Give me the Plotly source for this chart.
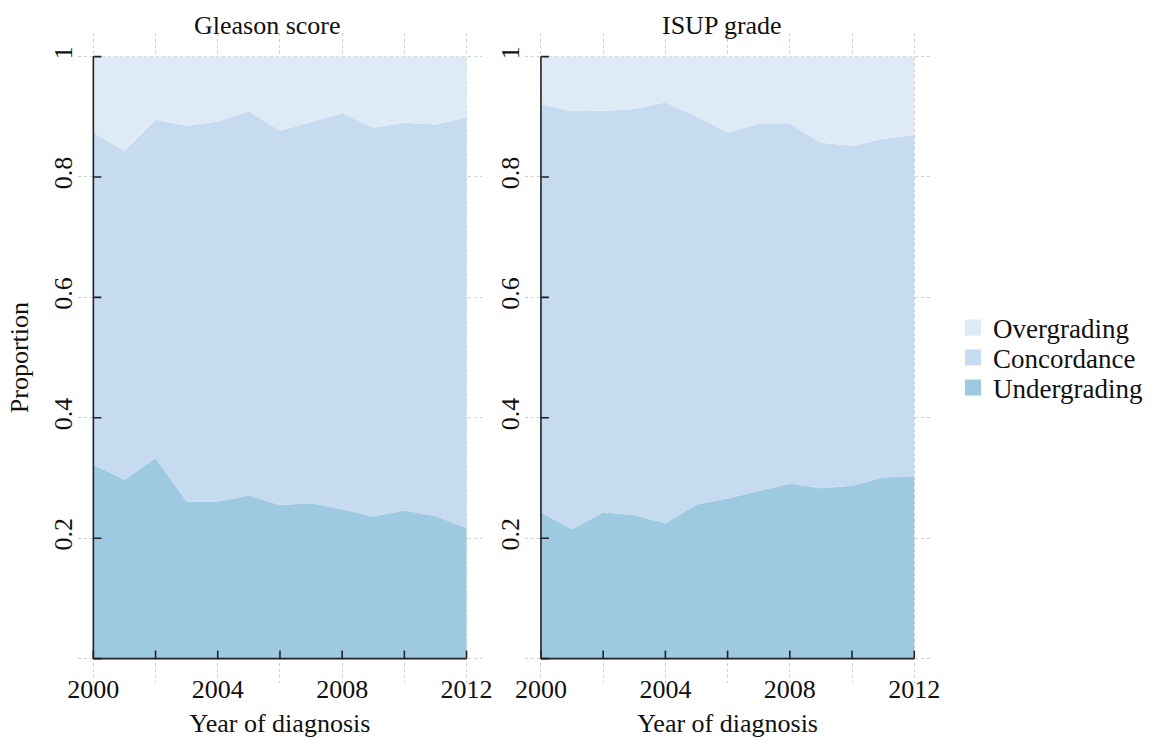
import plotly.graph_objects as go

# Proportion of cases by grading outcome, per year of diagnosis
years = list(range(2000, 2013))

gleason_under = [0.322, 0.297, 0.333, 0.261, 0.261, 0.271, 0.255, 0.258, 0.248, 0.236, 0.246, 0.237, 0.217]
gleason_conc = [0.552, 0.546, 0.562, 0.624, 0.631, 0.638, 0.622, 0.633, 0.658, 0.646, 0.644, 0.650, 0.682]
gleason_over = [0.126, 0.157, 0.105, 0.115, 0.108, 0.091, 0.123, 0.109, 0.094, 0.118, 0.110, 0.113, 0.101]

isup_under = [0.243, 0.215, 0.243, 0.238, 0.225, 0.256, 0.266, 0.279, 0.291, 0.283, 0.287, 0.301, 0.303]
isup_conc = [0.678, 0.694, 0.667, 0.675, 0.699, 0.644, 0.608, 0.609, 0.597, 0.574, 0.565, 0.562, 0.567]
isup_over = [0.079, 0.091, 0.090, 0.087, 0.076, 0.100, 0.126, 0.112, 0.112, 0.143, 0.148, 0.137, 0.130]

panel_titles = ["Gleason score", "ISUP grade"]
categories = ["Undergrading", "Concordance", "Overgrading"]
colors = {"Undergrading": "#9ecae1", "Concordance": "#c6dbef", "Overgrading": "#deebf7"}

x_tickvals = [2000, 2002, 2004, 2006, 2008, 2010, 2012]
x_ticktext = ["2000", "", "2004", "", "2008", "", "2012"]
y_tickvals = [0, 0.2, 0.4, 0.6, 0.8, 1.0]
y_ticktext = ["", "0.2", "0.4", "0.6", "0.8", "1"]

FONT = "Liberation Serif"
W, H = 1152, 738

fig = go.Figure()

panels = [
    ("x", "y", {"Undergrading": gleason_under, "Concordance": gleason_conc, "Overgrading": gleason_over}),
    ("x2", "y2", {"Undergrading": isup_under, "Concordance": isup_conc, "Overgrading": isup_over}),
]

for xa, ya, series in panels:
    for cat in categories:
        fig.add_trace(go.Scatter(
            x=years, y=series[cat], name=cat, mode="lines",
            stackgroup="stack_" + xa, line=dict(width=0, color=colors[cat]),
            fillcolor=colors[cat], xaxis=xa, yaxis=ya, showlegend=False,
            hovertemplate=cat + " %{x}: %{y:.3f}<extra></extra>",
        ))

# legend entries with square swatches, one legend per row
legend_rows = {"Overgrading": ("legend", 0.5556), "Concordance": ("legend2", 0.5149), "Undergrading": ("legend3", 0.4743)}
for cat, (lg, _) in legend_rows.items():
    fig.add_trace(go.Scatter(
        x=[None], y=[None], mode="markers", name=cat, legend=lg,
        marker=dict(symbol="square", size=17, color=colors[cat]),
        xaxis="x", yaxis="y", showlegend=True,
    ))

x_range = [1999.5, 2012.5]
y_range = [-0.04, 1.04]
grid = dict(showgrid=True, gridcolor="#cfcfcf", gridwidth=1, griddash="dot", zeroline=False, showline=False, ticks="")

axis_font = dict(family=FONT, size=26, color="#111111")

layout = dict(
    width=W, height=H,
    margin=dict(l=0, r=0, t=0, b=0),
    paper_bgcolor="white", plot_bgcolor="white",
    font=dict(family=FONT, size=26, color="#111111"),
    xaxis=dict(domain=[77.8 / W, 482.1 / W], range=x_range, tickvals=x_tickvals, ticktext=x_ticktext,
               tickfont=axis_font, ticklabelstandoff=-12, automargin=False,
               title=dict(text="Year of diagnosis", font=axis_font, standoff=11), **grid),
    yaxis=dict(domain=[1 - 682.7 / H, 1 - 32.5 / H], range=y_range, tickvals=y_tickvals, ticktext=y_ticktext,
               tickangle=-90, tickfont=axis_font, automargin=False,
               title=dict(text="Proportion", font=axis_font, standoff=12), **grid),
    xaxis2=dict(domain=[525.4 / W, 929.8 / W], range=x_range, tickvals=x_tickvals, ticktext=x_ticktext,
                tickfont=axis_font, ticklabelstandoff=-12, automargin=False, anchor="y2",
                title=dict(text="Year of diagnosis", font=axis_font, standoff=11), **grid),
    yaxis2=dict(domain=[1 - 682.7 / H, 1 - 32.5 / H], range=y_range, tickvals=y_tickvals, ticktext=y_ticktext,
                tickangle=-90, tickfont=axis_font, automargin=False, anchor="x2", **grid),
)
for lg, yy in legend_rows.values():
    layout[lg] = dict(x=953 / W, y=yy, xanchor="left", yanchor="middle", bgcolor="rgba(0,0,0,0)",
                      font=dict(family=FONT, size=27, color="#111111"), borderwidth=0)
fig.update_layout(**layout)

# range-frame axis lines with inward ticks, spanning the data extent only
x0, x1 = years[0], years[-1]
tick_dy = 8 / 602
tick_dx = 8 / 31.1
shapes = []
for xa, ya in [("x", "y"), ("x2", "y2")]:
    line = dict(color="#222222", width=1.6)
    shapes.append(dict(type="line", xref=xa, yref=ya, x0=x0, x1=x0, y0=0, y1=1, line=line, layer="above"))
    shapes.append(dict(type="line", xref=xa, yref=ya, x0=x0, x1=x1, y0=0, y1=0, line=line, layer="above"))
    for tv in x_tickvals:
        shapes.append(dict(type="line", xref=xa, yref=ya, x0=tv, x1=tv, y0=0, y1=tick_dy, line=line, layer="above"))
    for tv in y_tickvals:
        shapes.append(dict(type="line", xref=xa, yref=ya, x0=x0, x1=x0 + tick_dx, y0=tv, y1=tv, line=line, layer="above"))
fig.update_layout(shapes=shapes)

# panel titles
for xc, txt in zip([267.5 / W, 721.5 / W], panel_titles):
    fig.add_annotation(x=xc, y=1 - 25 / H, xref="paper", yref="paper", text=txt, showarrow=False,
                       xanchor="center", yanchor="middle", font=dict(family=FONT, size=26, color="#111111"))

fig.write_html("out.html")
